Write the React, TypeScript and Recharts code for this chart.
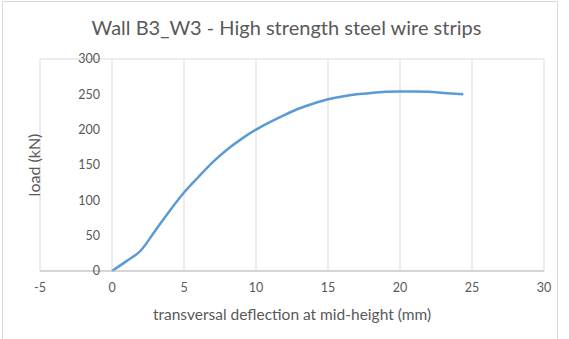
import React from 'react';
import {
  LineChart,
  Line,
  XAxis,
  YAxis,
  CartesianGrid,
  ReferenceDot,
} from 'recharts';

const deflection = [0, 1, 2, 3, 4, 5, 6, 7, 8, 9, 10, 11, 12, 13, 14, 15, 16, 17, 18, 19, 20, 21, 22, 23, 24.4];
const load = [0, 14, 29, 57, 85, 111, 133, 154, 172, 187, 200, 211, 221, 230, 237, 243, 247, 250, 252, 253.5, 254, 254, 253.5, 252, 250];

const xTicks = [-5, 0, 5, 10, 15, 20, 25, 30];
const yTicks = [0, 50, 100, 150, 200, 250, 300];

const title = 'Wall B3_W3 - High strength steel wire strips';
const xLabel = 'transversal deflection at mid-height (mm)';
const yLabel = 'load (kN)';

const data = deflection.map((d, i) => ({ x: d, y: load[i] }));

const FONT = 'Lato, "Open Sans", sans-serif';
const TEXT = '#595959';
const GRID = '#d9d9d9';

const App: React.FC = () => {
  return (
    <div style={{ position: 'absolute', left: 0, top: 0, width: 569, height: 339, background: '#fff', fontFamily: FONT, overflow: 'hidden' }}>
      <div
        style={{
          position: 'absolute',
          left: 2,
          top: 1,
          width: 556,
          height: 360,
          border: `1px solid ${GRID}`,
          boxSizing: 'border-box',
        }}
      />
      <div
        style={{
          position: 'absolute',
          left: 0,
          width: 569,
          top: 14,
          textAlign: 'center',
          fontSize: 20,
          color: TEXT,
          lineHeight: '26px',
          paddingLeft: 2,
        }}
      >
        {title}
      </div>
      <div style={{ position: 'absolute', left: 0, top: 0 }}>
        <LineChart width={569} height={339} data={data} margin={{ top: 59, right: 25, left: 0, bottom: 38 }}>
          <CartesianGrid stroke={GRID} />
          <XAxis
            type="number"
            dataKey="x"
            domain={[-5, 30]}
            ticks={xTicks}
            allowDataOverflow
            height={30}
            tickLine={false}
            axisLine={{ stroke: '#bfbfbf' }}
            tickMargin={6}
            tick={{ fill: TEXT, fontSize: 12.5, fontFamily: FONT }}
            label={{ value: xLabel, position: 'bottom', offset: 8, fill: TEXT, fontSize: 15.5, fontFamily: FONT }}
          />
          <YAxis
            type="number"
            domain={[0, 300]}
            ticks={yTicks}
            width={40}
            tick={false}
            tickLine={false}
            axisLine={false}
            label={({ viewBox }: any) => (
              <text
                x={viewBox.x + 33}
                y={viewBox.y + viewBox.height / 2}
                transform={`rotate(-90, ${viewBox.x + 33}, ${viewBox.y + viewBox.height / 2})`}
                textAnchor="middle"
                dominantBaseline="central"
                fill={TEXT}
                fontSize={16}
                fontFamily={FONT}
              >
                {yLabel}
              </text>
            )}
          />
          {yTicks.map((v) => (
            <ReferenceDot
              key={v}
              x={0}
              y={v}
              r={0}
              fill="none"
              stroke="none"
              ifOverflow="visible"
              label={{ value: String(v), position: 'left', offset: 12, fill: TEXT, fontSize: 12.5, fontFamily: FONT }}
            />
          ))}
          <Line
            type="monotone"
            dataKey="y"
            stroke="#5b9bd5"
            strokeWidth={2.5}
            dot={false}
            isAnimationActive={false}
          />
        </LineChart>
      </div>
    </div>
  );
};

export default App;
